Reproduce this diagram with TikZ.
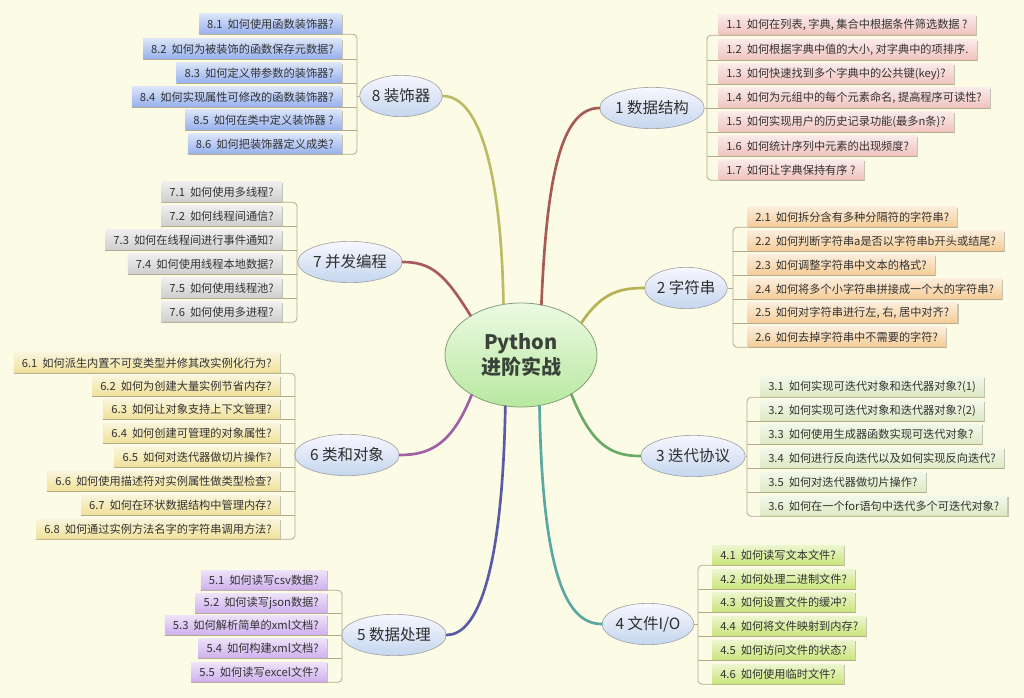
\documentclass[tikz,border=0pt]{standalone}
\usepackage{fontspec}
\setmainfont{Noto Sans CJK SC}
\usetikzlibrary{shapes.geometric,shadows}
\definecolor{bg}{HTML}{FBFBE6}
\definecolor{txt}{HTML}{333333}
\definecolor{brk}{HTML}{B4AA8C}
\definecolor{c1}{HTML}{A85A55}
\definecolor{c2}{HTML}{B8B055}
\definecolor{c3}{HTML}{6AAA66}
\definecolor{c4}{HTML}{5AA8A0}
\definecolor{c5}{HTML}{5A5AA5}
\definecolor{c6}{HTML}{A060A5}
\definecolor{c7}{HTML}{A85A5A}
\definecolor{c8}{HTML}{BCBC66}
\tikzset{
  leaf/.style={minimum height=15pt, inner xsep=6pt, inner ysep=0pt,
    font=\fontsize{8.4}{10}\selectfont, text=txt,
    drop shadow={shadow xshift=1pt, shadow yshift=-1pt, fill=black, opacity=0.22}},
  gA/.style={leaf, top color=#1!35!white, bottom color=#1, anchor=west},
  gB/.style={leaf, top color=#1!35!white, bottom color=#1, anchor=east},
  branch/.style={ellipse, draw=gray!70, line width=0.5pt, inner sep=0pt,
    top color=white!85!blue!20, bottom color={rgb,255:red,196;green,214;blue,238},
    minimum height=31pt, font=\fontsize{11.6}{13}\selectfont, text=txt!90!black},
  hub/.style={ellipse, draw={rgb,255:red,130;green,160;blue,120}, line width=0.6pt, inner sep=0pt,
    top color={rgb,255:red,236;green,250;blue,226}, bottom color={rgb,255:red,184;green,232;blue,160},
    minimum width=114pt, minimum height=78pt, align=center,
    font=\fontsize{15}{19}\selectfont\bfseries, text={rgb,255:red,58;green,66;blue,58}},
  brline/.style={draw=brk, line width=0.6pt, rounded corners=3pt},
  curve/.style={line width=2pt, line cap=round}
}
\begin{document}
\begin{tikzpicture}[x=0.75pt,y=-0.75pt]
\fill[bg] (0,0) rectangle (1024,698);
\useasboundingbox (0,0) rectangle (1024,698);

% hub
\node[hub] (c) at (521,355) {Python\\进阶实战};

% branches
\node[branch, minimum width=71pt] (n1) at (652,108) {1 数据结构};
\node[branch, minimum width=61pt] (n2) at (686,288) {2 字符串};
\node[branch, minimum width=73pt] (n3) at (693,456) {3 迭代协议};
\node[branch, minimum width=67pt] (n4) at (648,624) {4 文件I/O};
\node[branch, minimum width=73pt] (n5) at (394,635) {5 数据处理};
\node[branch, minimum width=73pt] (n6) at (347,455) {6 类和对象};
\node[branch, minimum width=72pt] (n7) at (350,262) {7 并发编程};
\node[branch, minimum width=59pt] (n8) at (401,96) {8 装饰器};

% curves
\draw[curve, c1] (c.68) .. controls +(5,-120) and +(-40,0) .. (n1.west);
\draw[curve, c2] (c.28) .. controls +(20,-30) and +(-25,0) .. (n2.west);
\draw[curve, c3] (c.322) .. controls +(20,50) and +(-30,0) .. (n3.west);
\draw[curve, c4] (c.290) .. controls +(3,170) and +(-35,0) .. (n4.west);
\draw[curve, c5] (c.253) .. controls +(-3,170) and +(30,0) .. (n5.east);
\draw[curve, c6] (c.219) .. controls +(-20,50) and +(30,0) .. (n6.east);
\draw[curve, c7] (c.142) .. controls +(-25,-40) and +(30,0) .. (n7.east);
\draw[curve, c8] (c.109) .. controls +(-2,-120) and +(40,0) .. (n8.east);

% group 1
\definecolor{k1}{HTML}{F0C2BD}
\node[gA=k1] (a1) at (718,25) {1.1\ \ 如何在列表, 字典, 集合中根据条件筛选数据 ?};
\node[gA=k1] (a2) at (718,50) {1.2\ \ 如何根据字典中值的大小, 对字典中的项排序.};
\node[gA=k1] (a3) at (718,74) {1.3\ \ 如何快速找到多个字典中的公共键(key)?};
\node[gA=k1] (a4) at (718,98) {1.4\ \ 如何为元组中的每个元素命名, 提高程序可读性?};
\node[gA=k1] (a5) at (718,122) {1.5\ \ 如何实现用户的历史记录功能(最多n条)?};
\node[gA=k1] (a6) at (718,146) {1.6\ \ 如何统计序列中元素的出现频度?};
\node[gA=k1] (a7) at (718,170) {1.7\ \ 如何让字典保持有序 ?};
\coordinate (b1) at (707,108);
\draw[brline] (a1.south east) -- (a1.south -| b1) -- (a7.south -| b1) -- (a7.south east);
\foreach \i in {2,...,6} \draw[brline] (a\i.south east) -- (a\i.south -| b1);
\draw[brline] (n1.east) -- (b1);

% group 2
\definecolor{k2}{HTML}{F5CC96}
\node[gA=k2] (s1) at (747,217) {2.1\ \ 如何拆分含有多种分隔符的字符串?};
\node[gA=k2] (s2) at (747,241) {2.2\ \ 如何判断字符串a是否以字符串b开头或结尾?};
\node[gA=k2] (s3) at (747,265) {2.3\ \ 如何调整字符串中文本的格式?};
\node[gA=k2] (s4) at (747,289) {2.4\ \ 如何将多个小字符串拼接成一个大的字符串?};
\node[gA=k2] (s5) at (747,313) {2.5\ \ 如何对字符串进行左, 右, 居中对齐?};
\node[gA=k2] (s6) at (747,337) {2.6\ \ 如何去掉字符串中不需要的字符?};
\coordinate (b2) at (733,288);
\draw[brline] (s1.south east) -- (s1.south -| b2) -- (s6.south -| b2) -- (s6.south east);
\foreach \i in {2,...,5} \draw[brline] (s\i.south east) -- (s\i.south -| b2);
\draw[brline] (n2.east) -- (b2);

% group 3
\definecolor{k3}{HTML}{DDE9C2}
\node[gA=k3] (t1) at (760,387) {3.1\ \ 如何实现可迭代对象和迭代器对象?(1)};
\node[gA=k3] (t2) at (760,411) {3.2\ \ 如何实现可迭代对象和迭代器对象?(2)};
\node[gA=k3] (t3) at (760,434) {3.3\ \ 如何使用生成器函数实现可迭代对象?};
\node[gA=k3] (t4) at (760,458) {3.4\ \ 如何进行反向迭代以及如何实现反向迭代?};
\node[gA=k3] (t5) at (760,482) {3.5\ \ 如何对迭代器做切片操作?};
\node[gA=k3] (t6) at (760,506) {3.6\ \ 如何在一个for语句中迭代多个可迭代对象?};
\coordinate (b3) at (747,456);
\draw[brline] (t1.south east) -- (t1.south -| b3) -- (t6.south -| b3) -- (t6.south east);
\foreach \i in {2,...,5} \draw[brline] (t\i.south east) -- (t\i.south -| b3);
\draw[brline] (n3.east) -- (b3);

% group 4
\definecolor{k4}{HTML}{C9E57A}
\node[gA=k4] (f1) at (712,555) {4.1\ \ 如何读写文本文件?};
\node[gA=k4] (f2) at (712,579) {4.2\ \ 如何处理二进制文件?};
\node[gA=k4] (f3) at (712,602) {4.3\ \ 如何设置文件的缓冲?};
\node[gA=k4] (f4) at (712,626) {4.4\ \ 如何将文件映射到内存?};
\node[gA=k4] (f5) at (712,650) {4.5\ \ 如何访问文件的状态?};
\node[gA=k4] (f6) at (712,674) {4.6\ \ 如何使用临时文件?};
\coordinate (b4) at (698,624);
\draw[brline] (f1.south east) -- (f1.south -| b4) -- (f6.south -| b4) -- (f6.south east);
\foreach \i in {2,...,5} \draw[brline] (f\i.south east) -- (f\i.south -| b4);
\draw[brline] (n4.east) -- (b4);

% group 5
\definecolor{k5}{HTML}{CFB0EE}
\node[gB=k5] (d1) at (327,580) {5.1\ \ 如何读写csv数据?};
\node[gB=k5] (d2) at (327,603) {5.2\ \ 如何读写json数据?};
\node[gB=k5] (d3) at (327,625) {5.3\ \ 如何解析简单的xml文档?};
\node[gB=k5] (d4) at (327,648) {5.4\ \ 如何构建xml文档?};
\node[gB=k5] (d5) at (327,672) {5.5\ \ 如何读写excel文件?};
\coordinate (b5) at (342,635);
\draw[brline] (d1.south west) -- (d1.south -| b5) -- (d5.south -| b5) -- (d5.south west);
\foreach \i in {2,...,4} \draw[brline] (d\i.south west) -- (d\i.south -| b5);
\draw[brline] (n5.west) -- (b5);

% group 6
\definecolor{k6}{HTML}{F1E19A}
\node[gB=k6] (o1) at (280,363) {6.1\ \ 如何派生内置不可变类型并修其改实例化行为?};
\node[gB=k6] (o2) at (280,386) {6.2\ \ 如何为创建大量实例节省内存?};
\node[gB=k6] (o3) at (280,409) {6.3\ \ 如何让对象支持上下文管理?};
\node[gB=k6] (o4) at (280,433) {6.4\ \ 如何创建可管理的对象属性?};
\node[gB=k6] (o5) at (280,457) {6.5\ \ 如何对迭代器做切片操作?};
\node[gB=k6] (o6) at (280,481) {6.6\ \ 如何使用描述符对实例属性做类型检查?};
\node[gB=k6] (o7) at (280,505) {6.7\ \ 如何在环状数据结构中管理内存?};
\node[gB=k6] (o8) at (280,529) {6.8\ \ 如何通过实例方法名字的字符串调用方法?};
\coordinate (b6) at (295,455);
\draw[brline] (o1.south west) -- (o1.south -| b6) -- (o8.south -| b6) -- (o8.south west);
\foreach \i in {2,...,7} \draw[brline] (o\i.south west) -- (o\i.south -| b6);
\draw[brline] (n6.west) -- (b6);

% group 7
\definecolor{k7}{HTML}{CFCFCF}
\node[gB=k7] (p1) at (282,192) {7.1\ \ 如何使用多线程?};
\node[gB=k7] (p2) at (282,216) {7.2\ \ 如何线程间通信?};
\node[gB=k7] (p3) at (282,240) {7.3\ \ 如何在线程间进行事件通知?};
\node[gB=k7] (p4) at (282,264) {7.4\ \ 如何使用线程本地数据?};
\node[gB=k7] (p5) at (282,288) {7.5\ \ 如何使用线程池?};
\node[gB=k7] (p6) at (282,312) {7.6\ \ 如何使用多进程?};
\coordinate (b7) at (297,262);
\draw[brline] (p1.south west) -- (p1.south -| b7) -- (p6.south -| b7) -- (p6.south west);
\foreach \i in {2,...,5} \draw[brline] (p\i.south west) -- (p\i.south -| b7);
\draw[brline] (n7.west) -- (b7);

% group 8
\definecolor{k8}{HTML}{97B1EE}
\node[gB=k8] (e1) at (342,24) {8.1\ \ 如何使用函数装饰器?};
\node[gB=k8] (e2) at (342,49) {8.2\ \ 如何为被装饰的函数保存元数据?};
\node[gB=k8] (e3) at (342,73) {8.3\ \ 如何定义带参数的装饰器?};
\node[gB=k8] (e4) at (342,97) {8.4\ \ 如何实现属性可修改的函数装饰器?};
\node[gB=k8] (e5) at (342,120) {8.5\ \ 如何在类中定义装饰器 ?};
\node[gB=k8] (e6) at (342,144) {8.6\ \ 如何把装饰器定义成类?};
\coordinate (b8) at (357,96);
\draw[brline] (e1.south west) -- (e1.south -| b8) -- (e6.south -| b8) -- (e6.south west);
\foreach \i in {2,...,5} \draw[brline] (e\i.south west) -- (e\i.south -| b8);
\draw[brline] (n8.west) -- (b8);
\end{tikzpicture}
\end{document}
